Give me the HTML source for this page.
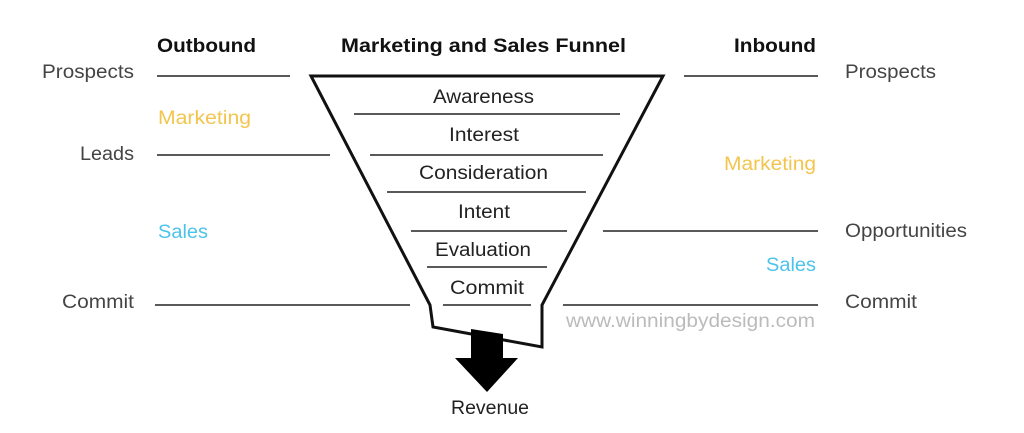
<!DOCTYPE html>
<html><head><style>
body{margin:0;background:#fff;}
svg text{font-family:"Liberation Sans",sans-serif;}
</style></head><body>
<svg width="1024" height="428" viewBox="0 0 1024 428" xmlns="http://www.w3.org/2000/svg">
<g font-size="19" font-weight="bold" fill="#111" lengthAdjust="spacingAndGlyphs">
<text x="157" y="52" textLength="99" lengthAdjust="spacingAndGlyphs">Outbound</text>
<text x="341" y="52" textLength="285" lengthAdjust="spacingAndGlyphs">Marketing and Sales Funnel</text>
<text x="734" y="52" textLength="82" lengthAdjust="spacingAndGlyphs">Inbound</text>
</g>
<g font-size="19" fill="#444">
<text x="42" y="78" textLength="92" lengthAdjust="spacingAndGlyphs">Prospects</text>
<text x="80" y="160" textLength="54" lengthAdjust="spacingAndGlyphs">Leads</text>
<text x="62" y="308" textLength="72" lengthAdjust="spacingAndGlyphs">Commit</text>
<text x="845" y="78" textLength="91" lengthAdjust="spacingAndGlyphs">Prospects</text>
<text x="845" y="237" textLength="122" lengthAdjust="spacingAndGlyphs">Opportunities</text>
<text x="845" y="308" textLength="72" lengthAdjust="spacingAndGlyphs">Commit</text>
</g>
<g font-size="19">
<text x="158" y="124" fill="#f3c54e" textLength="93" lengthAdjust="spacingAndGlyphs">Marketing</text>
<text x="158" y="238" fill="#4cc3ea" textLength="50" lengthAdjust="spacingAndGlyphs">Sales</text>
<text x="724" y="170" fill="#f3c54e" textLength="92" lengthAdjust="spacingAndGlyphs">Marketing</text>
<text x="766" y="271" fill="#4cc3ea" textLength="50" lengthAdjust="spacingAndGlyphs">Sales</text>
<text x="566" y="327" fill="#bbb" textLength="249" lengthAdjust="spacingAndGlyphs">www.winningbydesign.com</text>
</g>
<g stroke="#222" stroke-width="1.5">
<line x1="157" y1="76" x2="290" y2="76"/>
<line x1="157" y1="155" x2="330" y2="155"/>
<line x1="155" y1="305" x2="410" y2="305"/>
<line x1="684" y1="76" x2="818" y2="76"/>
<line x1="603" y1="231" x2="818" y2="231"/>
<line x1="563" y1="305" x2="818" y2="305"/>
<line x1="354" y1="114" x2="620" y2="114"/>
<line x1="370" y1="155" x2="603" y2="155"/>
<line x1="387" y1="192" x2="586" y2="192"/>
<line x1="411" y1="231" x2="567" y2="231"/>
<line x1="427" y1="267" x2="547" y2="267"/>
<line x1="443" y1="305" x2="531" y2="305"/>
</g>
<polygon points="311,76 663,76 542,305 542,347 433,327 430,305" fill="none" stroke="#111" stroke-width="3" stroke-linejoin="miter"/>
<polygon points="471,329 503,334 503,358 518,358 487,392 455,358 471,358" fill="#000"/>
<g font-size="19" fill="#222">
<text x="433" y="103" textLength="101" lengthAdjust="spacingAndGlyphs">Awareness</text>
<text x="449" y="141" textLength="70" lengthAdjust="spacingAndGlyphs">Interest</text>
<text x="419" y="179" textLength="129" lengthAdjust="spacingAndGlyphs">Consideration</text>
<text x="458" y="218" textLength="52" lengthAdjust="spacingAndGlyphs">Intent</text>
<text x="435" y="256" textLength="96" lengthAdjust="spacingAndGlyphs">Evaluation</text>
<text x="450" y="294" textLength="74" lengthAdjust="spacingAndGlyphs">Commit</text>
<text x="451" y="414" textLength="78" lengthAdjust="spacingAndGlyphs">Revenue</text>
</g>
</svg>
</body></html>
